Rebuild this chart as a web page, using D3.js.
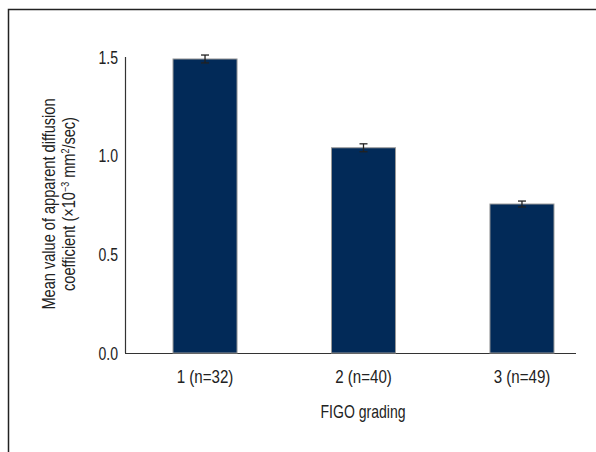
<!DOCTYPE html>
<html>
<head>
<meta charset="utf-8">
<script src="https://cdn.jsdelivr.net/npm/d3@7"></script>
<style>
  body { margin: 0; background: #fff; }
  text { font-family: "Liberation Sans", Arial, sans-serif; fill: #222; }
</style>
</head>
<body>
<svg width="596" height="452"></svg>
<script>
const categories = ["1 (n=32)", "2 (n=40)", "3 (n=49)"];
const means = [1.49, 1.04, 0.755];
const errors = [0.02, 0.02, 0.015];
const yTicks = [0.0, 0.5, 1.0, 1.5];

// the reference uses a condensed face, so squeeze text horizontally
const squeeze = 0.78;

const svg = d3.select("svg");

// frame (only top and left edges visible)
svg.append("path")
	.attr("d", "M8.5,452V9.5H596")
	.attr("fill", "none")
	.attr("stroke", "#222")
	.attr("stroke-width", 1.5);

const x = d3.scaleBand()
	.domain(categories)
	.range([125, 602])
	.paddingInner(0.596)
	.paddingOuter(0.303);

const y = d3.scaleLinear()
	.domain([0, 1.5])
	.range([353, 57]);

// axes
svg.append("line")
	.attr("x1", 125.5).attr("x2", 125.5)
	.attr("y1", y(1.5)).attr("y2", y(0))
	.attr("stroke", "#333").attr("stroke-width", 1.2);
svg.append("line")
	.attr("x1", 125).attr("x2", 576)
	.attr("y1", y(0) + 0.5).attr("y2", y(0) + 0.5)
	.attr("stroke", "#333").attr("stroke-width", 1.2);

svg.append("g")
	.selectAll("text")
	.data(yTicks)
	.join("text")
	.attr("transform", d => `translate(118,${y(d) + 6.5}) scale(${squeeze},1)`)
	.attr("text-anchor", "end")
	.attr("font-size", 18)
	.text(d => d.toFixed(1));

svg.append("g")
	.selectAll("text")
	.data(categories)
	.join("text")
	.attr("transform", d => `translate(${x(d) + x.bandwidth() / 2},383) scale(0.84,1)`)
	.attr("text-anchor", "middle")
	.attr("font-size", 18)
	.text(d => d);

// bars
svg.append("g")
	.selectAll("rect")
	.data(means)
	.join("rect")
	.attr("x", (d, i) => x(categories[i]))
	.attr("y", d => y(d))
	.attr("width", x.bandwidth())
	.attr("height", d => y(0) - y(d))
	.attr("fill", "#022a58")
	.attr("stroke", "#999")
	.attr("stroke-width", 1);

// error bars
const eb = svg.append("g")
	.attr("stroke", "#222")
	.attr("stroke-width", 1.3);
means.forEach((m, i) => {
	const cx = x(categories[i]) + x.bandwidth() / 2;
	eb.append("line").attr("x1", cx).attr("x2", cx)
		.attr("y1", y(m + errors[i])).attr("y2", y(m - errors[i]));
	[m + errors[i], m - errors[i]].forEach(v => {
		eb.append("line").attr("x1", cx - 4).attr("x2", cx + 4)
			.attr("y1", y(v)).attr("y2", y(v));
	});
});

// axis titles
svg.append("text")
	.attr("transform", `translate(363,418) scale(${squeeze},1)`)
	.attr("text-anchor", "middle")
	.attr("font-size", 18)
	.text("FIGO grading");

const yt = svg.append("text")
	.attr("transform", "translate(0,204) rotate(-90) scale(0.81,1)")
	.attr("text-anchor", "middle")
	.attr("font-size", 18);
yt.append("tspan")
	.attr("x", 0).attr("y", 55)
	.text("Mean value of apparent diffusion");
const l2 = yt.append("tspan")
	.attr("x", 0).attr("y", 75);
l2.append("tspan").text("coefficient (×10");
l2.append("tspan").attr("dy", -6).attr("font-size", 11).text("−3");
l2.append("tspan").attr("dy", 6).text(" mm");
l2.append("tspan").attr("dy", -6).attr("font-size", 11).text("2");
l2.append("tspan").attr("dy", 6).text("/sec)");
</script>
</body>
</html>
